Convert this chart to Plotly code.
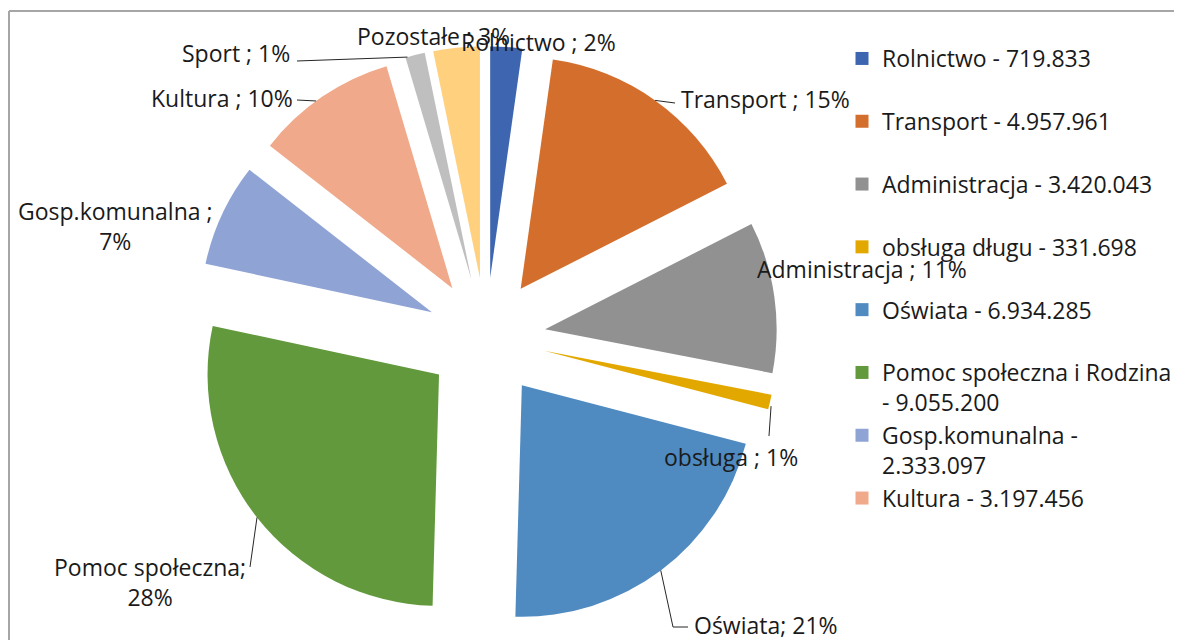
import math
import plotly.graph_objects as go

# ---------------- data ----------------
categories = ["Rolnictwo", "Transport", "Administracja", "obsługa długu", "Oświata",
              "Pomoc społeczna i Rodzina", "Gosp.komunalna", "Kultura", "Sport", "Pozostałe"]
values = [719833, 4957961, 3420043, 331698, 6934285, 9055200, 2333097, 3197456, 440000, 1050000]
label_names = ["Rolnictwo ; ", "Transport ; ", "Administracja ; ", "obsługa ; ", "Oświata; ",
               "Pomoc społeczna;<br>", "Gosp.komunalna ;<br>", "Kultura ; ", "Sport ; ", "Pozostałe ; "]
legend_count = 8
legend_breaks = {5: "<br>- ", 6: " -<br>"}   # wrapped legend entries
colors = ["#3E66B0", "#D46E2C", "#919191", "#E3A800", "#4F8AC0",
          "#62993D", "#8FA4D5", "#F0A98A", "#BFBFBF", "#FFD17F"]

# ---------------- layout params ----------------
W, H = 1182, 640
OFF = 8            # page margin of the html body (figure starts 8px in)
PULL = 0.258
CX_REF, CY_REF = 486, 337.5   # pie centre in page pixels
R_TARGET = 231.5
FONT = "Open Sans, Lato, sans-serif"
TXT = "#1A1A1A"
FS = 23

# pie domain so that plotly's own sizing yields the desired centre/radius
box = R_TARGET * (2 + 2 * PULL)
cxf, cyf = CX_REF - OFF, CY_REF - OFF
DX = [(cxf - box / 2 - 60) / W, (cxf + box / 2 + 60) / W]
DY = [1 - (cyf + box / 2) / H, 1 - (cyf - box / 2) / H]

fig = go.Figure()
fig.add_trace(go.Pie(
    labels=categories, values=values, sort=False, direction="clockwise", rotation=0,
    pull=PULL, textinfo="none", showlegend=False,
    marker=dict(colors=colors, line=dict(width=0)),
    domain=dict(x=DX, y=DY),
))

# legend entries (first 8 categories, as in the original)
def fmt(v):
    return f"{v:,}".replace(",", ".")

for i in range(legend_count):
    sep = legend_breaks.get(i, " - ")
    txt = categories[i] + sep + fmt(values[i])
    if "<br>" not in txt:
        txt += "<br>\u00a0"
    fig.add_trace(go.Scatter(
        x=[None], y=[None], mode="markers", name=txt,
        marker=dict(symbol="square", size=13, color=colors[i]),
        showlegend=True, hoverinfo="skip",
    ))

# pie geometry (mirrors plotly's own pie sizing), in page pixels
total = sum(values)
cum = [0]
for v in values:
    cum.append(cum[-1] + v / total)
cx = W * (DX[0] + DX[1]) / 2 + OFF
cy = H * (1 - DY[0]) - H * (DY[1] - DY[0]) / 2 + OFF
R = min(W * (DX[1] - DX[0]), H * (DY[1] - DY[0])) / (2 + 2 * PULL)

def d(theta):
    t = math.radians(theta)
    return math.sin(t), -math.cos(t)

def arc_point(i, f, extra=0.0):
    mid = 360 * (cum[i] + cum[i + 1]) / 2
    mx, my = d(mid)
    ax, ay = cx + PULL * R * mx, cy + PULL * R * my
    th = 360 * (cum[i] + f * (cum[i + 1] - cum[i]))
    tx, ty = d(th)
    return ax + (R + extra) * tx, ay + (R + extra) * ty

def px(x, y):
    return (x - OFF) / W, 1 - (y - OFF) / H

# data labels (text centres in page pixels)
label_pos = [(538, 42), (765, 99), (862, 269), (731, 457), (766, 625),
             (150, 582), (115, 226), (222, 98), (236, 53), (433, 36)]
annotations = []
draw_order = [9, 8, 7, 6, 5, 4, 3, 2, 1, 0]
for i in draw_order:
    pct = round(100 * values[i] / total)
    x, y = px(*label_pos[i])
    annotations.append(dict(
        text=f"{label_names[i]}{pct}%", x=x, y=y, xref="paper", yref="paper",
        xanchor="center", yanchor="middle", showarrow=False, align="center",
        font=dict(family=FONT, size=FS, color=TXT),
    ))

# leader lines: (slice index, fraction along slice, extra radius, path points after head)
leaders = [
    (1, 0.5, 0, [(675, 103)]),
    (7, 0.45, 0, [(297, 100)]),
    (8, 0.1, 0, [(297, 61)]),
    (3, 0.75, 2, [(769, 436)]),
    (4, 0.5, 0, [(673, 627), (688, 627)]),
    (5, 0.5, 0, [(250, 567)]),
]
shapes = []
for i, f, extra, pts in leaders:
    hx, hy = arc_point(i, f, extra)
    allp = [(hx, hy)] + pts
    path = ""
    for k, (x, y) in enumerate(allp):
        a, b = px(x, y)
        path += ("M" if k == 0 else " L") + f" {a:.5f} {b:.5f}"
    shapes.append(dict(type="path", path=path, xref="paper", yref="paper",
                       line=dict(color="#262626", width=1)))

# chart frame (top & left edges visible)
frame_col = "#A6A6A6"
fx, fy = px(9, 11)
shapes.append(dict(type="line", xref="paper", yref="paper", x0=fx, x1=1.0,
                   y0=fy, y1=fy, line=dict(color=frame_col, width=2)))
shapes.append(dict(type="line", xref="paper", yref="paper", x0=fx, x1=fx,
                   y0=fy, y1=0, line=dict(color=frame_col, width=2)))

lx, ly = px(842, 37)
fig.update_layout(
    width=W, height=H,
    margin=dict(l=0, r=0, t=0, b=0),
    paper_bgcolor="white", plot_bgcolor="white",
    font=dict(family=FONT, size=FS, color=TXT),
    xaxis=dict(visible=False), yaxis=dict(visible=False),
    showlegend=True,
    legend=dict(x=lx, y=ly, xanchor="left", yanchor="top",
                font=dict(family=FONT, size=FS, color=TXT),
                valign="top", itemwidth=30,
                bgcolor="rgba(0,0,0,0)", traceorder="normal"),
    annotations=annotations,
    shapes=shapes,
)

fig.write_html("out.html")
